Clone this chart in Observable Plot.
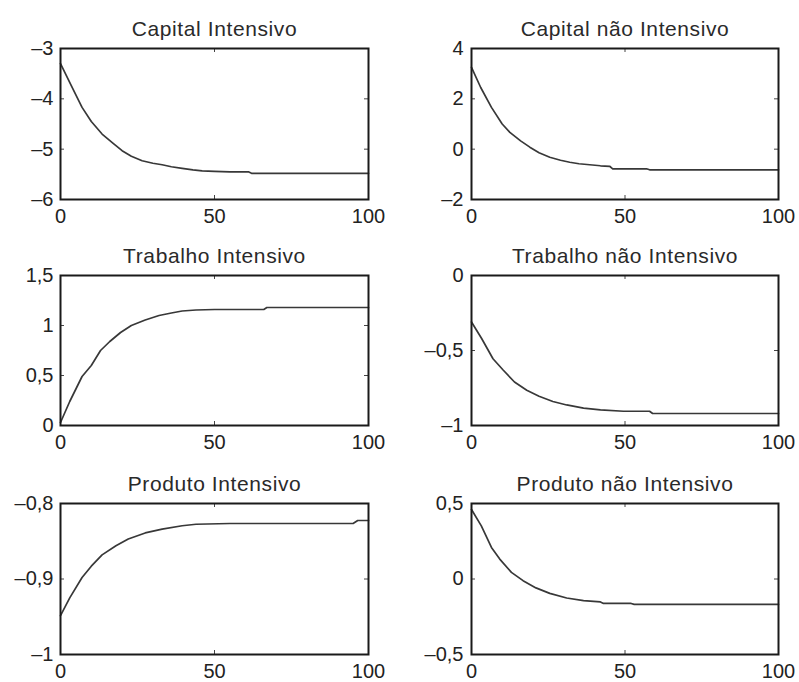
<!DOCTYPE html>
<html>
<head>
<meta charset="utf-8">
<script src="https://cdn.jsdelivr.net/npm/d3@7"></script>
<script src="https://cdn.jsdelivr.net/npm/@observablehq/plot@0.6"></script>
<style>
  html, body { margin: 0; padding: 0; background: #fff; }
  #grid { position: relative; width: 799px; height: 682px; overflow: hidden; }
  #grid svg { position: absolute; }
  #grid svg g.panel-title text { letter-spacing: 0.6px; }
</style>
</head>
<body>
<div id="grid"></div>
<script>
// Panel titles (row by row, left to right)
const titles = [
  "Capital Intensivo", "Capital não Intensivo",
  "Trabalho Intensivo", "Trabalho não Intensivo",
  "Produto Intensivo", "Produto não Intensivo"
];

// Shared horizontal axis
const xTicks = [0, 50, 100];
const xTickLabels = ["0", "50", "100"];

// Capital Intensivo
const capIntT = [0, 3.5, 7, 10, 13.5, 17, 20, 23, 26.5, 30, 33, 36, 39.5, 43, 46, 50, 55, 61, 62, 100];
const capIntV = [-3.3, -3.74, -4.17, -4.45, -4.7, -4.88, -5.03, -5.14, -5.23, -5.28, -5.31, -5.35, -5.38, -5.41, -5.43, -5.44, -5.45, -5.45, -5.48, -5.48];
const capIntTicks = [-6, -5, -4, -3];
const capIntLabels = ["–6", "–5", "–4", "–3"];

// Capital não Intensivo
const capNaoT = [0, 3, 6.5, 10, 12.5, 16, 19, 22, 25.5, 29, 32, 35, 38.5, 42, 45, 46, 57, 58, 100];
const capNaoV = [3.25, 2.45, 1.66, 1.0, 0.67, 0.33, 0.08, -0.14, -0.32, -0.44, -0.52, -0.58, -0.62, -0.66, -0.68, -0.78, -0.78, -0.82, -0.82];
const capNaoTicks = [-2, 0, 2, 4];
const capNaoLabels = ["–2", "0", "2", "4"];

// Trabalho Intensivo
const trabIntT = [0, 3, 7, 10, 13, 16, 19.5, 23, 27.5, 32, 36, 39.5, 44, 50, 66, 67, 100];
const trabIntV = [0.03, 0.24, 0.49, 0.6, 0.75, 0.84, 0.93, 1.0, 1.055, 1.1, 1.125, 1.145, 1.155, 1.16, 1.16, 1.18, 1.18];
const trabIntTicks = [0, 0.5, 1, 1.5];
const trabIntLabels = ["0", "0,5", "1", "1,5"];

// Trabalho não Intensivo
const trabNaoT = [0, 3.3, 7, 10.3, 14, 18, 22, 26.5, 31, 36.5, 42, 49.5, 58, 59, 100];
const trabNaoV = [-0.31, -0.42, -0.555, -0.63, -0.71, -0.765, -0.805, -0.84, -0.863, -0.884, -0.896, -0.905, -0.905, -0.92, -0.92];
const trabNaoTicks = [-1, -0.5, 0];
const trabNaoLabels = ["–1", "–0,5", "0"];

// Produto Intensivo
const prodIntT = [0, 3, 7, 10, 13.5, 18, 22, 27.5, 33, 39.5, 44, 55, 95, 96.5, 100];
const prodIntV = [-0.9485, -0.925, -0.898, -0.883, -0.868, -0.856, -0.847, -0.839, -0.834, -0.8295, -0.8275, -0.8265, -0.8265, -0.8225, -0.8225];
const prodIntTicks = [-1, -0.9, -0.8];
const prodIntLabels = ["–1", "–0,9", "–0,8"];

// Produto não Intensivo
const prodNaoT = [0, 3.2, 6.5, 9.2, 13, 16.8, 21, 25.5, 31, 36.5, 42, 43, 52, 53, 100];
const prodNaoV = [0.46, 0.352, 0.209, 0.132, 0.044, -0.011, -0.059, -0.095, -0.126, -0.143, -0.152, -0.162, -0.162, -0.168, -0.168];
const prodNaoTicks = [-0.5, 0, 0.5];
const prodNaoLabels = ["–0,5", "0", "0,5"];

const series = [
  [capIntT, capIntV, capIntTicks, capIntLabels],
  [capNaoT, capNaoV, capNaoTicks, capNaoLabels],
  [trabIntT, trabIntV, trabIntTicks, trabIntLabels],
  [trabNaoT, trabNaoV, trabNaoTicks, trabNaoLabels],
  [prodIntT, prodIntV, prodIntTicks, prodIntLabels],
  [prodNaoT, prodNaoV, prodNaoTicks, prodNaoLabels]
];

// Grid geometry: two columns, three rows of boxed axes
const columns = [
  {left: 0, width: 400, marginLeft: 60, marginRight: 32, tickPadding: 7},
  {left: 400, width: 399, marginLeft: 71, marginRight: 21, tickPadding: 8}
];
const rows = [
  {frameTop: 48, innerHeight: 151},
  {frameTop: 275, innerHeight: 150},
  {frameTop: 503, innerHeight: 151}
];
const marginTop = 40, marginBottom = 28, tickLen = 4;
const font = "'Liberation Sans', Arial, Helvetica, sans-serif";

const grid = document.getElementById("grid");

series.forEach(([t, v, yTicks, yLabels], i) => {
  const col = columns[i % 2];
  const row = rows[Math.floor(i / 2)];
  const innerW = col.width - col.marginLeft - col.marginRight;
  const innerH = row.innerHeight;
  const data = t.map((x, j) => ({t: x, v: v[j]}));

  const chart = Plot.plot({
    width: col.width,
    height: marginTop + innerH + marginBottom,
    marginTop,
    marginBottom,
    marginLeft: col.marginLeft,
    marginRight: col.marginRight,
    style: {fontFamily: font, color: "#222", background: "transparent", overflow: "visible"},
    x: {domain: [0, 100], label: null},
    y: {domain: [yTicks[0], yTicks[yTicks.length - 1]], label: null},
    marks: [
      Plot.axisX({ticks: xTicks, tickSize: 0, tickPadding: 9, fontSize: 20, label: null,
        tickFormat: d => xTickLabels[xTicks.indexOf(d)]}),
      Plot.axisY({ticks: yTicks, tickSize: 0, tickPadding: col.tickPadding, fontSize: 20, label: null,
        tickFormat: d => yLabels[yTicks.indexOf(d)]}),
      // inward ticks on all four sides of the box
      Plot.tickX(xTicks, {x: d => d, insetTop: innerH - tickLen, stroke: "#444"}),
      Plot.tickX(xTicks, {x: d => d, insetBottom: innerH - tickLen, stroke: "#444"}),
      Plot.tickY(yTicks, {y: d => d, insetRight: innerW - tickLen, stroke: "#444"}),
      Plot.tickY(yTicks, {y: d => d, insetLeft: innerW - tickLen, stroke: "#444"}),
      Plot.line(data, {x: "t", y: "v", stroke: "#383838", strokeWidth: 1.7}),
      Plot.frame({stroke: "#1a1a1a", strokeWidth: 2}),
      Plot.text([titles[i]], {text: d => d, frameAnchor: "top", lineAnchor: "bottom", dy: -13,
        fontSize: 21, fill: "#2a2a2a", className: "panel-title"})
    ]
  });
  chart.style.left = col.left + "px";
  chart.style.top = (row.frameTop - marginTop) + "px";
  grid.appendChild(chart);
});
</script>
</body>
</html>
